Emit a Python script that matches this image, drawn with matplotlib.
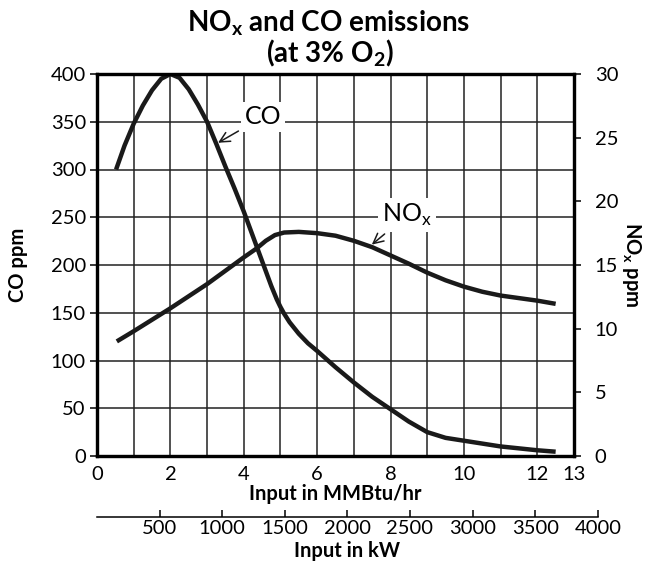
import matplotlib.pyplot as plt

plt.rcParams['font.family'] = ['Lato', 'DejaVu Sans']
plt.rcParams['mathtext.fontset'] = 'custom'
plt.rcParams['mathtext.rm'] = 'Lato'
plt.rcParams['mathtext.bf'] = 'Lato:bold'

# CO (ppm, left axis)
co_x = [0.52, 0.75, 1.0, 1.25, 1.5, 1.75, 2.0, 2.25, 2.5, 2.75, 3.0, 3.25, 3.5,
        3.75, 4.0, 4.25, 4.5, 4.75, 4.9, 5.0, 5.1, 5.25, 5.5, 5.75, 6.0, 6.5,
        7.0, 7.5, 8.0, 8.5, 9.0, 9.5, 10.0, 11.0, 12.0, 12.5]
co_y = [300, 325, 348, 367, 383, 395, 400, 396, 384, 368, 350, 327, 303,
        280, 256, 230, 204, 178, 164, 156, 149, 140, 128, 118, 110, 93,
        77, 62, 49, 36, 25, 19, 16, 10, 6, 4.5]

# NOx (ppm, right axis)
nox_x = [0.54, 1.0, 2.0, 3.0, 4.0, 4.35, 4.6, 4.85, 5.1, 5.5, 6.0, 6.5, 7.0,
         7.5, 8.0, 8.5, 9.0, 9.5, 10.0, 10.5, 11.0, 12.0, 12.5]
nox_y = [9.0, 9.8, 11.6, 13.5, 15.6, 16.3, 16.9, 17.35, 17.55, 17.6, 17.5,
         17.3, 16.9, 16.4, 15.75, 15.1, 14.4, 13.8, 13.3, 12.9, 12.6, 12.2,
         11.95]

mmbtu_ticks = [0, 2, 4, 6, 8, 10, 12, 13]
kw_ticks = [500, 1000, 1500, 2000, 2500, 3000, 3500, 4000]
co_ticks = list(range(0, 401, 50))
nox_ticks = list(range(0, 31, 5))
KW_PER_MMBTU = 293.07

fig = plt.figure(figsize=(6.5, 5.64), dpi=100)
left, bottom, width, height = 97/650, 1 - 456/564, 477/650, 382/564
ax = fig.add_axes([left, bottom, width, height])

ax.set_xlim(0, 13)
ax.set_ylim(0, 400)
ax.set_xticks(mmbtu_ticks)
ax.set_xticks(range(14), minor=True)
ax.set_yticks(co_ticks)
ax.grid(which='both', axis='x', color='#222222', lw=1.1)
ax.grid(which='major', axis='y', color='#222222', lw=1.1)
ax.set_axisbelow(True)
ax.tick_params(axis='x', which='both', length=0, labelsize=14.5, pad=7)
ax.tick_params(axis='y', length=5, width=1.1, labelsize=14.5, pad=3)
for s in ax.spines.values():
    s.set_linewidth(2.3)
ax.plot(co_x, co_y, color='#1a1a1a', lw=3.2, solid_capstyle='butt')
ax.set_xlabel('Input in MMBtu/hr', fontsize=14.5, fontweight='bold', labelpad=1)
ax.set_ylabel('CO ppm', fontsize=14.5, fontweight='bold', labelpad=16)

ax2 = ax.twinx()
ax2.set_ylim(0, 30)
ax2.set_yticks(nox_ticks)
ax2.tick_params(axis='y', length=5, width=1.1, labelsize=14.5, pad=10)
for s in ax2.spines.values():
    s.set_linewidth(2.3)
ax2.plot(nox_x, nox_y, color='#1a1a1a', lw=3.2, solid_capstyle='butt')
ax2.set_ylabel('NO$_\\mathbf{x}$ ppm', fontsize=14.5, fontweight='bold',
               rotation=270, labelpad=18)

box = dict(boxstyle='square,pad=0.15', fc='white', ec='none')
ax.annotate('CO', xy=(3.3, 328), xytext=(4.52, 355), fontsize=18,
            ha='center', va='center', bbox=box,
            arrowprops=dict(arrowstyle='->', color='#1a1a1a', lw=1.1,
                            shrinkA=2, shrinkB=0))
ax2.annotate('NO$_\\mathregular{x}$', xy=(7.49, 16.6), xytext=(8.45, 18.9),
             fontsize=18, ha='center', va='center', bbox=box,
             arrowprops=dict(arrowstyle='->', color='#1a1a1a', lw=1.1,
                             shrinkA=2, shrinkB=0))

# second scale in kW
kw_width = width * (4000 / KW_PER_MMBTU) / 13
axk = fig.add_axes([left, 1 - 517/564, kw_width, 0.0001])
axk.set_xlim(0, 4000)
axk.set_xticks(kw_ticks)
axk.set_yticks([])
for name in ['top', 'left', 'right']:
    axk.spines[name].set_visible(False)
axk.spines['bottom'].set_linewidth(1.1)
axk.patch.set_visible(False)
axk.tick_params(axis='x', direction='in', length=5, width=1.1, labelsize=14.5, pad=2)
axk.set_xlabel('Input in kW', fontsize=14.5, fontweight='bold', labelpad=3)

fig.text(0.505, 1 - 31/564, 'NO$_\\mathbf{x}$ and CO emissions', fontsize=20,
         fontweight='bold', ha='center', va='baseline')
fig.text(0.507, 1 - 62/564, '(at 3% O$_\\mathbf{2}$)', fontsize=20,
         fontweight='bold', ha='center', va='baseline')

fig.savefig('out.png', dpi=100)
